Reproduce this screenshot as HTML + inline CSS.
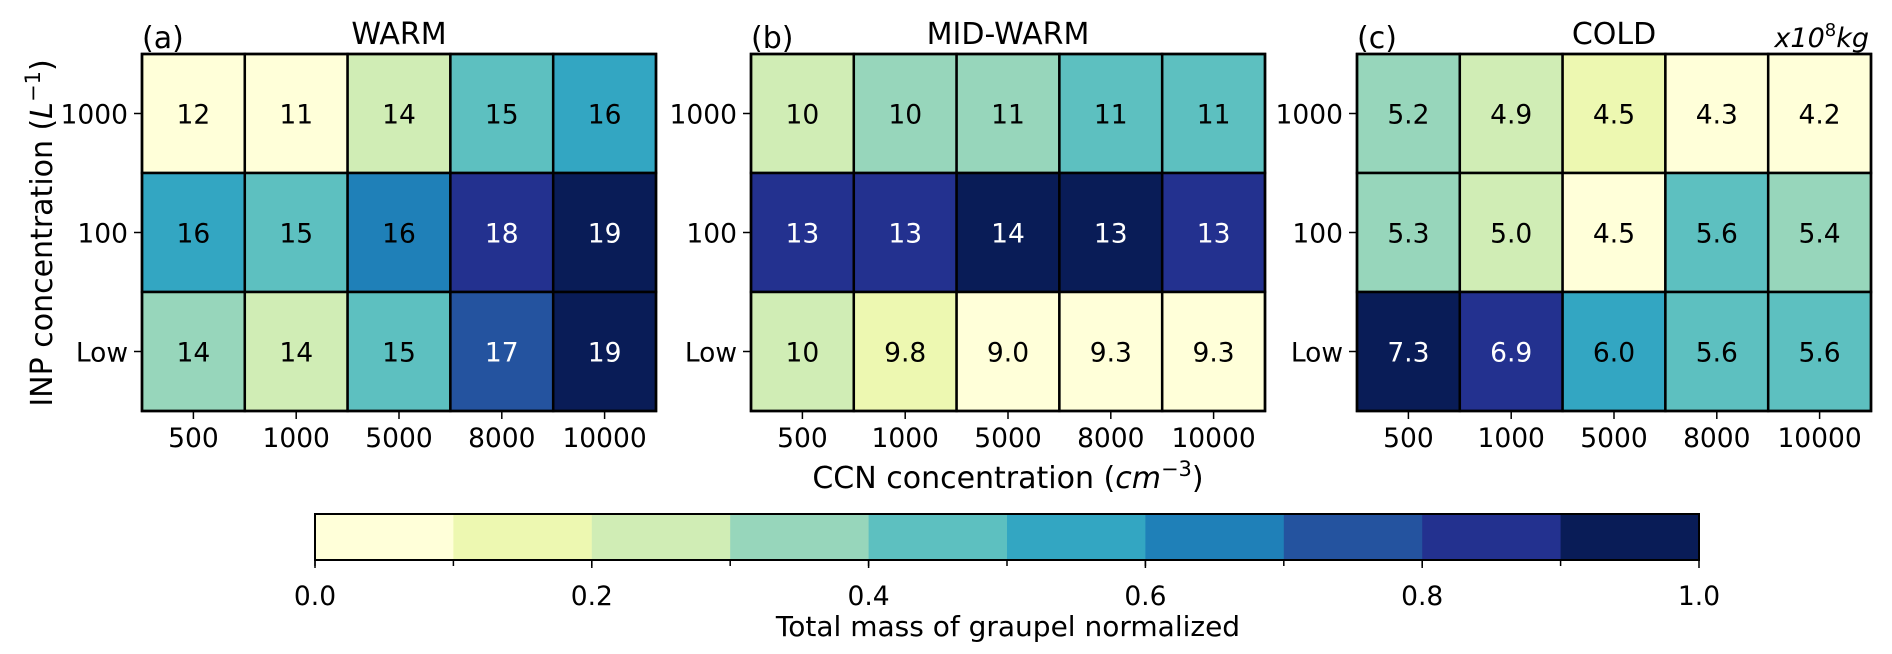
<!DOCTYPE html>
<html><head><meta charset="utf-8">
<style>
html,body{margin:0;padding:0;background:#fff;}
svg text{font-family:"DejaVu Sans","Liberation Sans",sans-serif;fill:#000;}
</style></head>
<body>
<svg id="chart" width="1892" height="649" viewBox="0 0 1892 649" xmlns="http://www.w3.org/2000/svg"></svg>
<script>
const ccnLabels = ["500","1000","5000","8000","10000"];
const inpLabels = ["1000","100","Low"];
const panelTitles = ["WARM","MID-WARM","COLD"];
const panelTags = ["(a)","(b)","(c)"];
const warmValues = [["12","11","14","15","16"],["16","15","16","18","19"],["14","14","15","17","19"]];
const warmNorm = [[0.05,0.05,0.25,0.45,0.55],[0.55,0.45,0.65,0.85,0.95],[0.35,0.25,0.45,0.75,0.95]];
const midValues = [["10","10","11","11","11"],["13","13","14","13","13"],["10","9.8","9.0","9.3","9.3"]];
const midNorm = [[0.25,0.35,0.35,0.45,0.45],[0.85,0.85,0.95,0.95,0.85],[0.25,0.15,0.05,0.05,0.05]];
const coldValues = [["5.2","4.9","4.5","4.3","4.2"],["5.3","5.0","4.5","5.6","5.4"],["7.3","6.9","6.0","5.6","5.6"]];
const coldNorm = [[0.35,0.25,0.15,0.05,0.05],[0.35,0.25,0.05,0.45,0.35],[0.95,0.85,0.55,0.45,0.45]];
const cbarTicks = [0,0.2,0.4,0.6,0.8,1.0];
const cbarTickLabels = ["0.0","0.2","0.4","0.6","0.8","1.0"];

const palette = ["#ffffd9","#edf8b1","#d0edb5","#97d6bb","#5dc0c0","#33a6c2","#1f80b8","#24539f","#23318f","#091c57"];
function colorOf(v){return palette[Math.min(9,Math.floor(v*10))];}

const svg = document.getElementById('chart');
const NS = "http://www.w3.org/2000/svg";
function mk(tag, attrs, parent){const e=document.createElementNS(NS,tag);for(const k in attrs)e.setAttribute(k,attrs[k]);(parent||svg).appendChild(e);return e;}

const panelLeft = [142,751,1357];
const panelW = 514, panelTop = 54, panelH = 357;
const values = [warmValues, midValues, coldValues];
const norms = [warmNorm, midNorm, coldNorm];
const nCols = ccnLabels.length, nRows = inpLabels.length;

for(let p=0;p<3;p++){
  const g = mk('g',{});
  
  
  const x0=panelLeft[p];
  const cw=panelW/nCols, rh=panelH/nRows;
  const xCenter = i => x0 + cw*(i+0.5);
  const yCenter = j => panelTop + rh*(j+0.5);
  for(let j=0;j<nRows;j++){
    for(let i=0;i<nCols;i++){
      const v = norms[p][j][i];
      const r = mk('rect',{x:x0+cw*i,y:panelTop+rh*j,width:cw,height:rh,fill:colorOf(v),stroke:'#000','stroke-width':2.5},g);
      
      
      const t = mk('text',{x:xCenter(i),y:yCenter(j)+10,'text-anchor':'middle','font-size':26.5,style:'fill:'+(v>0.7?'#fff':'#000')},g);
      t.textContent = values[p][j][i];
      
      
    }
  }
  mk('rect',{x:x0,y:panelTop,width:panelW,height:panelH,fill:'none',stroke:'#000','stroke-width':2.5},g);
  for(let i=0;i<nCols;i++){
    mk('line',{x1:xCenter(i),x2:xCenter(i),y1:panelTop+panelH,y2:panelTop+panelH+8,stroke:'#000','stroke-width':1.5},g);
    const t=mk('text',{x:xCenter(i),y:447,'text-anchor':'middle','font-size':26.5},g);
    t.textContent=ccnLabels[i];
    
    
  }
  for(let j=0;j<nRows;j++){
    mk('line',{x1:x0-8,x2:x0,y1:yCenter(j),y2:yCenter(j),stroke:'#000','stroke-width':1.5},g);
    const t=mk('text',{x:x0-14,y:yCenter(j)+10,'text-anchor':'end','font-size':26.5},g);
    t.textContent=inpLabels[j];
    
    
  }
  const tag=mk('text',{x:x0,y:48,'font-size':30},g);
  tag.textContent=panelTags[p];
  
  
  const tt=mk('text',{x:x0+panelW/2,y:44,'text-anchor':'middle','font-size':30},g);
  tt.textContent=panelTitles[p];
  
  
}
</script>
<script>
(function(){
  const svg=document.getElementById('chart');
  const NS="http://www.w3.org/2000/svg";
  function mk(tag,attrs,parent){const e=document.createElementNS(NS,tag);for(const k in attrs)e.setAttribute(k,attrs[k]);(parent||svg).appendChild(e);return e;}
  const u=mk('text',{x:1869,y:47,'text-anchor':'end','font-size':27,'font-style':'italic'});
  u.innerHTML='x10<tspan dy="-11" font-size="18" font-style="normal">8</tspan><tspan dy="11">kg</tspan>';
  
  
  const yl=mk('text',{x:0,y:0,'text-anchor':'middle','font-size':30,transform:'translate(52,233) rotate(-90)'});
  yl.innerHTML='INP concentration (<tspan font-style="italic">L</tspan><tspan dy="-12" font-size="21">−1</tspan><tspan dy="12">)</tspan>';
  
  
  const xl=mk('text',{x:1008,y:488,'text-anchor':'middle','font-size':30});
  xl.innerHTML='CCN concentration (<tspan font-style="italic">cm</tspan><tspan dy="-12" font-size="21">−3</tspan><tspan dy="12">)</tspan>';
  
  
  const cb=mk('g',{});
  
  
  const cx0=315,cx1=1699,cy0=514,cy1=560;
  const cx=v=>cx0+(cx1-cx0)*v;
  for(let k=0;k<palette.length;k++){
    const r=mk('rect',{x:cx(k/10),y:cy0,width:(cx1-cx0)/10+0.5,height:cy1-cy0,fill:palette[k]},cb);
    
    
    mk('line',{x1:cx(k/10),x2:cx(k/10),y1:cy1,y2:cy1+6,stroke:'#000','stroke-width':1.5},cb);
  }
  mk('rect',{x:cx0,y:cy0,width:cx1-cx0,height:cy1-cy0,fill:'none',stroke:'#000','stroke-width':2},cb);
  for(let k=0;k<cbarTicks.length;k++){
    mk('line',{x1:cx(cbarTicks[k]),x2:cx(cbarTicks[k]),y1:cy1,y2:cy1+8,stroke:'#000','stroke-width':1.5},cb);
    const t=mk('text',{x:cx(cbarTicks[k]),y:605,'text-anchor':'middle','font-size':26.5},cb);
    t.textContent=cbarTickLabels[k];
    
    
  }
  const cl=mk('text',{x:1008,y:636,'text-anchor':'middle','font-size':28});
  cl.textContent='Total mass of graupel normalized';
  
  
})();
</script>
</body></html>
